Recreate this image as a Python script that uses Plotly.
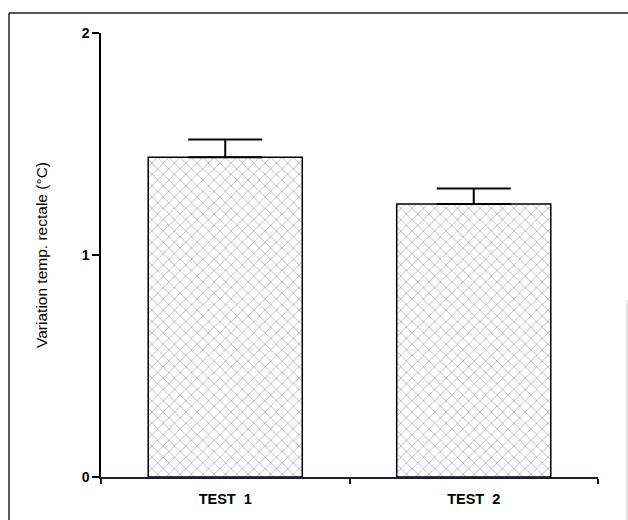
import plotly.graph_objects as go

# Rectal temperature variation for the two tests (mean with upward SEM bar)
categories = ["TEST  1", "TEST  2"]
means = [1.44, 1.23]
errors = [0.08, 0.07]
y_ticks = [0, 1, 2]

W, H = 628, 520
margin = dict(l=101, r=30, t=33, b=43)
plot_w = W - margin["l"] - margin["r"]
plot_h = H - margin["t"] - margin["b"]


def px_to_paper_x(px):
    return (px - margin["l"]) / plot_w


def px_to_paper_y(py):
    return (H - margin["b"] - py) / plot_h


fig = go.Figure(
    go.Bar(
        x=categories,
        y=means,
        width=0.62,
        marker=dict(
            color="white",
            line=dict(color="black", width=1.5),
            pattern=dict(shape="x", size=8, solidity=0.14,
                         fgcolor="#2a2a2a", bgcolor="white"),
        ),
        error_y=dict(
            type="data",
            symmetric=False,
            array=errors,
            arrayminus=[0] * len(errors),
            color="black",
            thickness=2,
            width=37,
        ),
    )
)

# Outer frame lines around the figure
frame = dict(type="line", xref="paper", yref="paper",
             line=dict(color="#222222", width=1.5))
fig.add_shape(**frame, x0=px_to_paper_x(9), x1=px_to_paper_x(628),
              y0=px_to_paper_y(13), y1=px_to_paper_y(13))
fig.add_shape(**frame, x0=px_to_paper_x(9), x1=px_to_paper_x(9),
              y0=px_to_paper_y(13), y1=px_to_paper_y(520))
fig.add_shape(type="line", xref="paper", yref="paper",
              line=dict(color="#cfcfcf", width=1),
              x0=px_to_paper_x(627), x1=px_to_paper_x(627),
              y0=px_to_paper_y(300), y1=px_to_paper_y(520))

font_family = "Liberation Sans, Arial, sans-serif"

fig.update_layout(
    width=W,
    height=H,
    margin=margin,
    paper_bgcolor="white",
    plot_bgcolor="white",
    showlegend=False,
    font=dict(family=font_family, color="black"),
    xaxis=dict(
        type="category",
        range=[-0.5, 1.5],
        showline=True,
        linecolor="#1a2030",
        linewidth=2,
        ticks="outside",
        tickson="boundaries",
        ticklen=5,
        tickwidth=2,
        tickcolor="#1a2030",
        showgrid=False,
        ticklabelstandoff=8,
        tickfont=dict(size=14.5, family=font_family, weight="bold"),
    ),
    yaxis=dict(
        range=[0, 2],
        tickvals=y_ticks,
        showline=True,
        linecolor="black",
        linewidth=1.5,
        ticks="outside",
        ticklen=7,
        tickwidth=1.5,
        tickcolor="black",
        showgrid=False,
        zeroline=False,
        tickfont=dict(size=14, family=font_family, weight="bold"),
        title=dict(text="Variation temp. rectale (°C)",
                   font=dict(size=15.5, family=font_family),
                   standoff=30),
    ),
)

fig.write_html("out.html")
